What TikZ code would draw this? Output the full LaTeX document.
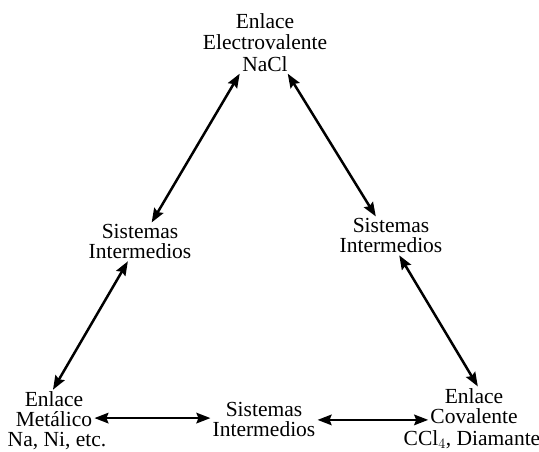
\documentclass[tikz,border=0pt]{standalone}
\usepackage{fontspec}
\setmainfont{Liberation Serif}
\usepackage{tikz}
\usetikzlibrary{arrows.meta}

\tikzset{
  lbl/.style={align=center, inner sep=2pt, font=\fontsize{21.5}{20}\selectfont},
  dbl/.style={{Stealth[length=14pt,width=10.5pt,inset=2pt]}-{Stealth[length=14pt,width=10.5pt,inset=2pt]}, line width=2.5pt}
}

\begin{document}
\begin{tikzpicture}[x=1pt, y=1pt]
        \useasboundingbox (0,0) rectangle (539,451);
        % Corners of the triangle
        \node[lbl, font=\fontsize{21.5}{21.5}\selectfont] (top) at (265,408.6) {Enlace\\Electrovalente\\NaCl};
        \node[lbl] (blc) at (54,41.5) {Enlace\\Metálico};
        \node[lbl, anchor=base, inner sep=0pt] (blsub) at (57,5) {Na, Ni, etc.};
        \node[lbl] (brc) at (474,44.8) {Enlace\\Covalente};
        \node[lbl, anchor=base, inner sep=0pt] (brsub) at (472,6) {CCl$_4$, Diamante};
        % Intermediate systems
        \node[lbl] (lmid) at (140,209.1) {Sistemas\\Intermedios};
        \node[lbl] (rmid) at (391,215.1) {Sistemas\\Intermedios};
        \node[lbl] (bc) at (264,31.1) {Sistemas\\Intermedios};
        % Arrows
        \draw[dbl] (top.231) -- (lmid.59);
        \draw[dbl] (lmid.238) -- (blc.93);
        \draw[dbl] (top.306) -- (rmid.128);
        \draw[dbl] (rmid.293) -- (brc.79);
        \draw[dbl] (blc.348) -- (blc.348 -| bc.west);
        \draw[dbl] (bc.east) -- (bc.east -| brc.west);
\end{tikzpicture}
\end{document}
